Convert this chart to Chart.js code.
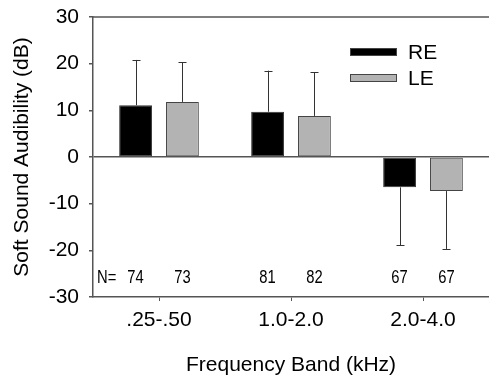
<!DOCTYPE html>
<html>
<head>
<meta charset="utf-8">
<script src="https://cdn.jsdelivr.net/npm/chart.js@4"></script>
<style>
  html, body { margin: 0; padding: 0; background: #fff; }
  #wrap { width: 489px; height: 376px; }
</style>
</head>
<body>
<div id="wrap"><canvas id="chart"></canvas></div>
<script>
// data
const categories = [".25-.50", "1.0-2.0", "2.0-4.0"];
const reValues = [11.1, 9.7, -6.5];
const leValues = [11.8, 8.8, -7.3];
const reSD = [9.7, 8.8, 12.4];
const leSD = [8.5, 9.4, 12.4];
const reN = [74, 81, 67];
const leN = [73, 82, 67];
const yTicks = [-30, -20, -10, 0, 10, 20, 30];

const axisColor = "#555";
const fontFam = "'Liberation Sans', Arial, sans-serif";

// error bars, top frame line, legend and N labels
const extras = {
    id: "extras",
    afterDatasetsDraw(chart) {
        const ctx = chart.ctx;
        const y = chart.scales.y;
        const sds = [reSD, leSD];
        ctx.save();
        ctx.strokeStyle = "#333";
        ctx.lineWidth = 1;
        chart.data.datasets.forEach((ds, di) => {
            const meta = chart.getDatasetMeta(di);
            meta.data.forEach((bar, i) => {
                const v = ds.data[i];
                const end = y.getPixelForValue(v + Math.sign(v) * sds[di][i]);
                const x = Math.round(bar.x) + 0.5;
                ctx.beginPath();
                ctx.moveTo(x, bar.y);
                ctx.lineTo(x, end);
                ctx.moveTo(x - 4, Math.round(end) + 0.5);
                ctx.lineTo(x + 4, Math.round(end) + 0.5);
                ctx.stroke();
            });
        });
        ctx.restore();
    },
    afterDraw(chart) {
        const ctx = chart.ctx;
        const a = chart.chartArea;
        ctx.save();
        // top frame
        ctx.strokeStyle = axisColor;
        ctx.lineWidth = 1.5;
        ctx.beginPath();
        ctx.moveTo(a.left, a.top);
        ctx.lineTo(a.right, a.top);
        ctx.stroke();

        // legend
        const legend = [["RE", "#000"], ["LE", "#b3b3b3"]];
        legend.forEach((item, i) => {
            const ly = a.top + 31 + i * 26;
            ctx.fillStyle = item[1];
            ctx.fillRect(350, ly, 47, 8);
            ctx.strokeStyle = "#444";
            ctx.lineWidth = 1;
            ctx.strokeRect(350.5, ly + 0.5, 46, 7);
            ctx.fillStyle = "#000";
            ctx.font = "21px " + fontFam;
            ctx.textBaseline = "middle";
            ctx.textAlign = "left";
            ctx.fillText(item[0], 408, ly + 5);
        });

        // N labels (condensed)
        ctx.font = "18px " + fontFam;
        ctx.fillStyle = "#000";
        ctx.textBaseline = "middle";
        const ny = a.bottom - 19;
        const sx = 0.82;
        const put = (txt, x, align) => {
            ctx.save();
            ctx.translate(x, ny);
            ctx.scale(sx, 1);
            ctx.textAlign = align;
            ctx.fillText(txt, 0, 0);
            ctx.restore();
        };
        put("N=", a.left + 4, "left");
        const ns = [reN, leN];
        ns.forEach((arr, di) => {
            chart.getDatasetMeta(di).data.forEach((bar, i) => {
                put(String(arr[i]), bar.x, "center");
            });
        });
        ctx.restore();
    }
};

new Chart(document.getElementById("chart"), {
    type: "bar",
    data: {
        labels: categories,
        datasets: [{
            label: "RE",
            data: reValues,
            backgroundColor: "#000",
            borderColor: "#333",
            borderWidth: 1,
            borderSkipped: false
        }, {
            label: "LE",
            data: leValues,
            backgroundColor: "#b3b3b3",
            borderColor: "#444",
            borderWidth: 1,
            borderSkipped: false
        }]
    },
    options: {
        responsive: true,
        maintainAspectRatio: false,
        animation: false,
        datasets: {
            bar: {
                categoryPercentage: 0.71,
                barPercentage: 0.7
            }
        },
        layout: {
            padding: { top: 17, right: 0, left: 0, bottom: 0 }
        },
        plugins: {
            legend: { display: false },
            tooltip: { enabled: false }
        },
        scales: {
            x: {
                offset: true,
                afterFit: s => { s.height = 79; },
                grid: {
                    offset: false,
                    color: "transparent",
                    tickColor: axisColor,
                    tickLength: 4
                },
                border: { display: true, color: axisColor, width: 1.5 },
                ticks: {
                    color: "#000",
                    padding: 7,
                    font: { family: fontFam, size: 21 }
                },
                title: {
                    display: true,
                    text: "Frequency Band (kHz)",
                    color: "#000",
                    font: { family: fontFam, size: 21, lineHeight: 1 },
                    padding: { top: 0, bottom: 0 }
                }
            },
            y: {
                min: -30,
                max: 30,
                afterFit: s => {
                    s.width = 93;
                    s.paddingTop = 0;
                    s.paddingBottom = 0;
                },
                afterBuildTicks: s => { s.ticks = yTicks.map(v => ({ value: v })); },
                grid: {
                    color: c => (c.tick && c.tick.value === 0) ? axisColor : "transparent",
                    lineWidth: 1.5,
                    tickColor: axisColor,
                    tickLength: 4
                },
                border: { display: true, color: axisColor, width: 1.5 },
                ticks: {
                    color: "#000",
                    padding: 10,
                    font: { family: fontFam, size: 21 }
                },
                title: {
                    display: true,
                    text: "Soft Sound Audibility (dB)",
                    color: "#000",
                    font: { family: fontFam, size: 21 },
                    padding: { top: 10, bottom: 0 }
                }
            }
        }
    },
    plugins: [extras]
});
</script>
</body>
</html>
